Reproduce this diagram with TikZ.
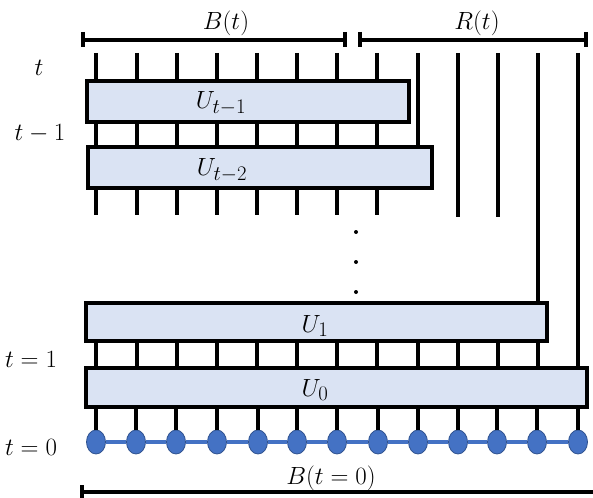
\documentclass[tikz,border=0pt]{standalone}
\usetikzlibrary{shapes.geometric}
\definecolor{boxfill}{HTML}{DAE3F3}
\definecolor{dotblue}{HTML}{4472C4}
\definecolor{dotedge}{HTML}{2F528F}
\begin{document}
\begin{tikzpicture}[x=1pt,y=-1pt,
  wire/.style={line width=3.2pt},
  ubox/.style={draw, line width=3.2pt, fill=boxfill, inner sep=0pt},
  qdot/.style={ellipse, fill=dotblue, draw=dotedge, line width=0.8pt, minimum width=19pt, minimum height=24pt, inner sep=0pt},
  chain/.style={draw=dotblue, line width=3.8pt},
  lab/.style={font=\fontsize{24.88}{30}\selectfont, inner sep=0pt},
  brack/.style={line width=3.2pt},
  vdot/.style={circle, fill=black, inner sep=0pt, minimum size=4pt}]
\useasboundingbox (0,0) rectangle (593,497);

% wire columns: top ends and lower free ends
\foreach \x [count=\i from 0] in {96,137,177,217,257,297,337,377,418,458,498,538,578}{
  \coordinate (w\i) at (\x,53);
  \coordinate (e\i) at (\x,215);
}
\coordinate (f9) at (458,217);
\coordinate (f10) at (498,217);

% boxes
\node[ubox, minimum width=322pt, minimum height=41pt] (A) at (248,101.5) {};
\node[ubox, minimum width=344pt, minimum height=41pt] (B) at (260,167.5) {};
\node[ubox, minimum width=461pt, minimum height=38pt] (C) at (316.5,322) {};
\node[ubox, minimum width=501pt, minimum height=39pt] (D) at (336.5,387.5) {};

\node[lab] (LA) at (221,103) {$U_{t-1}$};
\node[lab] (LB) at (222,170) {$U_{t-2}$};
\node[lab] (LC) at (315,326) {$U_{1}$};
\node[lab] (LD) at (315,390) {$U_{0}$};

% dots (qubits)
\foreach \x [count=\i from 0] in {96,136,176,217,258,297,337,378,418,458,497,537,578}{
  \node[qdot] (d\i) at (\x,442) {};
}
\foreach \i [evaluate=\i as \j using int(\i+1)] in {0,...,11}{
  \draw[chain] (d\i) -- (d\j);
}

% wires
\foreach \i in {0,...,7}{
  \draw[wire] (w\i) -- (A.north -| w\i);
  \draw[wire] (A.south -| w\i) -- (B.north -| w\i);
  \draw[wire] (B.south -| w\i) -- (e\i);
}
\draw[wire] (w8) -- (B.north -| w8);
\draw[wire] (w9) -- (f9);
\draw[wire] (w10) -- (f10);
\draw[wire] (w11) -- (C.north -| w11);
\draw[wire] (w12) -- (D.north -| w12);
\foreach \i in {0,...,11}{
  \draw[wire] (C.south -| w\i) -- (D.north -| w\i);
}
\foreach \i in {0,...,12}{
  \draw[wire] (D.south -| d\i) -- (d\i.north);
}

% vertical ellipsis
\node[vdot] (v1) at (356,232) {};
\node[vdot] (v2) at (356,262) {};
\node[vdot] (v3) at (356,292) {};

% brackets
\coordinate (b1) at (83,40);
\coordinate (b2) at (345,40);
\coordinate (r1) at (360,40);
\coordinate (r2) at (586,40);
\draw[brack] (b1) -- (b2);
\draw[brack] (r1) -- (r2);
\draw[brack] (83,32) -- (83,47);
\draw[brack] (345,32) -- (345,47);
\draw[brack] (360,32) -- (360,47);
\draw[brack] (586,32) -- (586,47);
\coordinate (z1) at (82,492);
\coordinate (z2) at (596,492);
\draw[brack] (z1) -- (z2);
\draw[brack] (82,485) -- (82,499);

% labels
\node[lab] (LBt) at (226,23) {$B(t)$};
\node[lab] (LRt) at (477,23) {$R(t)$};
\node[lab] (LB0) at (331,478) {$B(t=0)$};
\node[lab] (T0) at (39,68) {$t$};
\node[lab] (T1) at (40,134) {$t-1$};
\node[lab] (T2) at (31,359) {$t=1$};
\node[lab] (T3) at (31,447) {$t=0$};
\end{tikzpicture}
\end{document}
